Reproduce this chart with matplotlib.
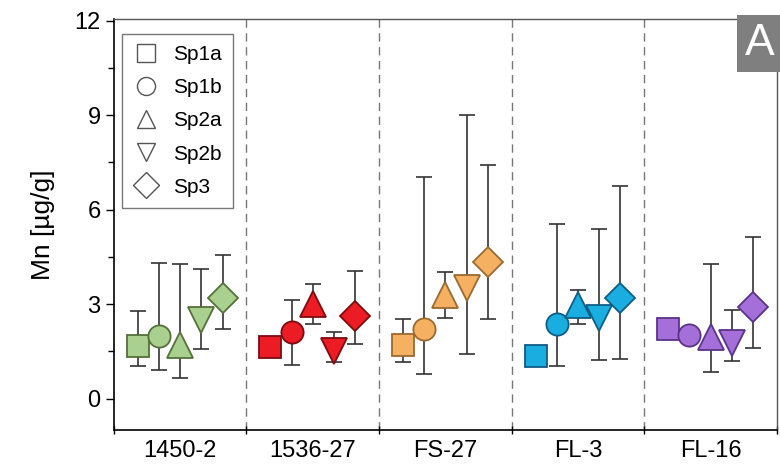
import numpy as np
from matplotlib import pyplot as plt
from matplotlib.lines import Line2D

plt.rcParams['font.family'] = ['Liberation Sans', 'DejaVu Sans']

# DATA
samples = ['1450-2', '1536-27', 'FS-27', 'FL-3', 'FL-16']
phases = ['Sp1a', 'Sp1b', 'Sp2a', 'Sp2b', 'Sp3']

# mean value per sample (rows) and phase (columns)
mn_mean = [[1.67, 2.00, 1.70, 2.50, 3.18],
           [1.63, 2.13, 2.99, 1.52, 2.62],
           [1.70, 2.21, 3.28, 3.50, 4.34],
           [1.34, 2.36, 2.97, 2.55, 3.20],
           [2.21, 2.02, 1.97, 1.76, 2.92]]
# upper / lower end of the error bars (None = no bar)
mn_high = [[2.79, 4.32, 4.28, 4.13, 4.57],
           [None, 3.13, 3.63, 2.12, 4.04],
           [2.53, 7.05, 4.02, 9.02, 7.42],
           [None, 5.53, 3.46, 5.39, 6.76],
           [None, None, 4.26, 2.81, 5.13]]
mn_low = [[1.04, 0.92, 0.64, 1.59, 2.22],
          [None, 1.06, 2.36, 1.15, 1.74],
          [1.17, 0.78, 2.55, 1.43, 2.52],
          [None, 1.02, 2.37, 1.24, 1.25],
          [None, None, 0.86, 1.18, 1.62]]

fill_colors = ['#a9d08e', '#ec1c24', '#f5b062', '#1aaee0', '#a46fd9']
edge_colors = ['#55703c', '#7d0c10', '#9a6a30', '#0f5d85', '#5b3388']
markers = ['s', 'o', '^', 'v', 'D']
marker_sizes = [15.5, 16, 19, 19, 15]
offsets = [-0.32, -0.16, 0.0, 0.16, 0.32]

fig = plt.figure(figsize=(7.8, 4.66), dpi=100)
ax = fig.add_axes([0.146, 0.077, 0.85, 0.882])

for g in range(len(samples)):
    for p in range(len(phases)):
        x = g + 0.5 + offsets[p]
        y = mn_mean[g][p]
        if mn_high[g][p] is not None:
            err = [[y - mn_low[g][p]], [mn_high[g][p] - y]]
            ax.errorbar(x, y, yerr=err, fmt='none', ecolor='#333333',
                        elinewidth=1.2, capsize=6, capthick=1.2, zorder=2)
        ax.plot(x, y, marker=markers[p], ms=marker_sizes[p], color=fill_colors[g],
                mec=edge_colors[g], mew=1.3, ls='none', zorder=3)

for b in range(1, len(samples)):
    ax.axvline(b, color='#777777', lw=1.0, ls=(0, (6, 4)), zorder=1)

ax.set_xlim(0, len(samples))
ax.set_ylim(-1, 12.05)
ax.set_xticks(np.arange(len(samples) + 1))
ax.set_xticklabels([])
ax.set_xticks(np.arange(len(samples)) + 0.5, minor=True)
ax.set_xticklabels(samples, minor=True, fontsize=17)
ax.tick_params(axis='x', which='minor', length=0, pad=7)
ax.tick_params(axis='x', which='major', length=6, direction='inout', width=1)

ax.set_yticks([0, 3, 6, 9, 12])
ax.set_yticks([1.5, 4.5, 7.5, 10.5], minor=True)
ax.tick_params(axis='y', which='major', labelsize=17, length=6, width=1, direction='out')
ax.tick_params(axis='y', which='minor', length=4, width=1, direction='out')
ax.set_ylabel('Mn [\u00b5g/g]', fontsize=19, labelpad=14)

for side in ['left', 'bottom']:
    ax.spines[side].set_color('black')
    ax.spines[side].set_linewidth(1.2)
for side in ['top', 'right']:
    ax.spines[side].set_color('#555555')
    ax.spines[side].set_linewidth(1.0)

handles = [Line2D([], [], marker=m, ls='none', mfc='none', mec='#555555', mew=1.0, ms=13)
           for m in markers]
leg = ax.legend(handles, phases, loc='upper left', bbox_to_anchor=(-0.004, 0.99),
                fontsize=15, frameon=True, fancybox=False, edgecolor='#555555',
                handletextpad=0.7, labelspacing=0.68, borderpad=0.55, handlelength=1.2)
leg.get_frame().set_linewidth(1.0)

ax.text(0.997, 0.99, 'A', transform=ax.transAxes, ha='right', va='top',
        fontsize=32, color='white',
        bbox=dict(boxstyle='square,pad=0.18', fc='#7f7f7f', ec='none'))

fig.savefig('out.png', dpi=100, facecolor='white')
